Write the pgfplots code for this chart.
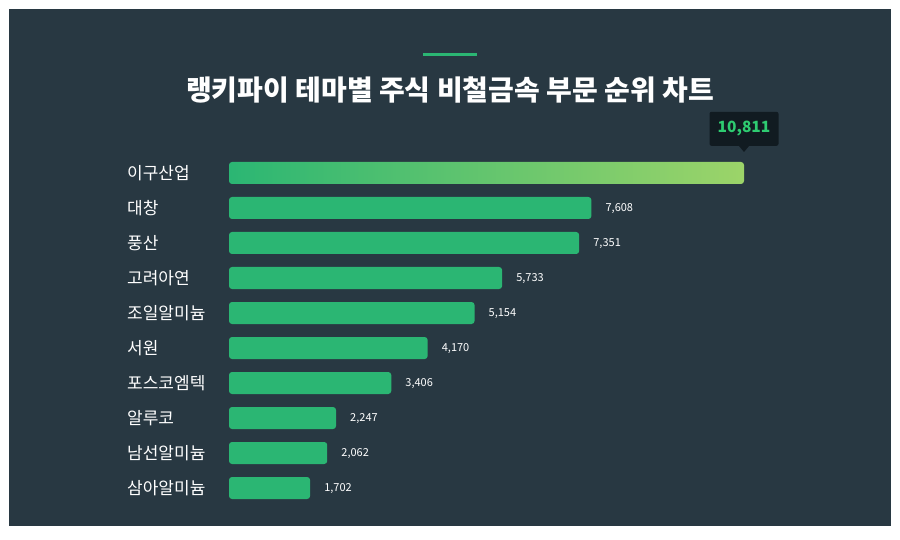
\documentclass[border=0pt]{standalone}
\usepackage{pgfplots}
\pgfplotsset{compat=1.18}
\usepackage{fontspec}
\setmainfont{Noto Sans CJK KR}
\definecolor{panel}{HTML}{283842}
\definecolor{bar}{HTML}{2BB673}
\definecolor{barlight}{HTML}{9CD469}
\definecolor{tipbg}{HTML}{111B21}
\definecolor{tiptext}{HTML}{2ECC71}
\begin{document}
\begin{tikzpicture}[x=1pt,y=1pt]
\fill[white] (0,0) rectangle (900,540);
\useasboundingbox (0,0) rectangle (900,540);
\fill[panel] (9,14) rectangle (891,531);
\fill[bar] (423,483.5) rectangle (477,486.5);
\node[text=white, font=\fontsize{28}{32}\selectfont\bfseries] at (450,450) {랭키파이 테마별 주식 비철금속 부문 순위 차트};
\begin{axis}[
  at={(229pt,384.5pt)}, anchor=north west,
  width=515pt, height=350pt, scale only axis,
  xmin=0, xmax=10811,
  ymin=-0.5, ymax=9.5, y dir=reverse,
  axis line style={draw=none},
  major tick length=0pt,
  xtick=\empty,
  ytick={0,...,9},
  yticklabels={이구산업,대창,풍산,고려아연,조일알미늄,서원,포스코엠텍,알루코,남선알미늄,삼아알미늄},
  y tick label style={anchor=west, inner sep=0pt, xshift=-102pt, text=white, font=\fontsize{17}{20}\selectfont},
  clip=false,
  xbar, bar width=22pt, bar shift=0pt,
  /pgf/number format/assume math mode=true,
  /pgf/number format/1000 sep={,},
]
\addplot[draw=none, left color=bar, right color=barlight, rounded corners=3pt] coordinates {(10811,0)};
\addplot[draw=none, fill=bar, rounded corners=3pt,
  point meta=x,
  nodes near coords={\pgfmathprintnumber{\pgfplotspointmeta}},
  every node near coord/.append style={anchor=west, inner sep=0pt, xshift=14pt, yshift=-1pt, text=white, font=\fontsize{11}{13}\selectfont, rounded corners=0pt}
] coordinates {
(7608,1) (7351,2) (5733,3) (5154,4) (4170,5) (3406,6) (2247,7) (2062,8) (1702,9)
};
\node[fill=tipbg, text=tiptext, font=\fontsize{15.5}{19}\selectfont\bfseries, rounded corners=2pt, minimum width=69pt, minimum height=34pt, inner sep=0pt, anchor=south] (tip) at ([yshift=27pt]axis cs:10811,0) {10,811};
\fill[tipbg] ([xshift=-5pt]tip.south) -- ([xshift=5pt]tip.south) -- ([yshift=-6pt]tip.south) -- cycle;
\end{axis}
\end{tikzpicture}
\end{document}
